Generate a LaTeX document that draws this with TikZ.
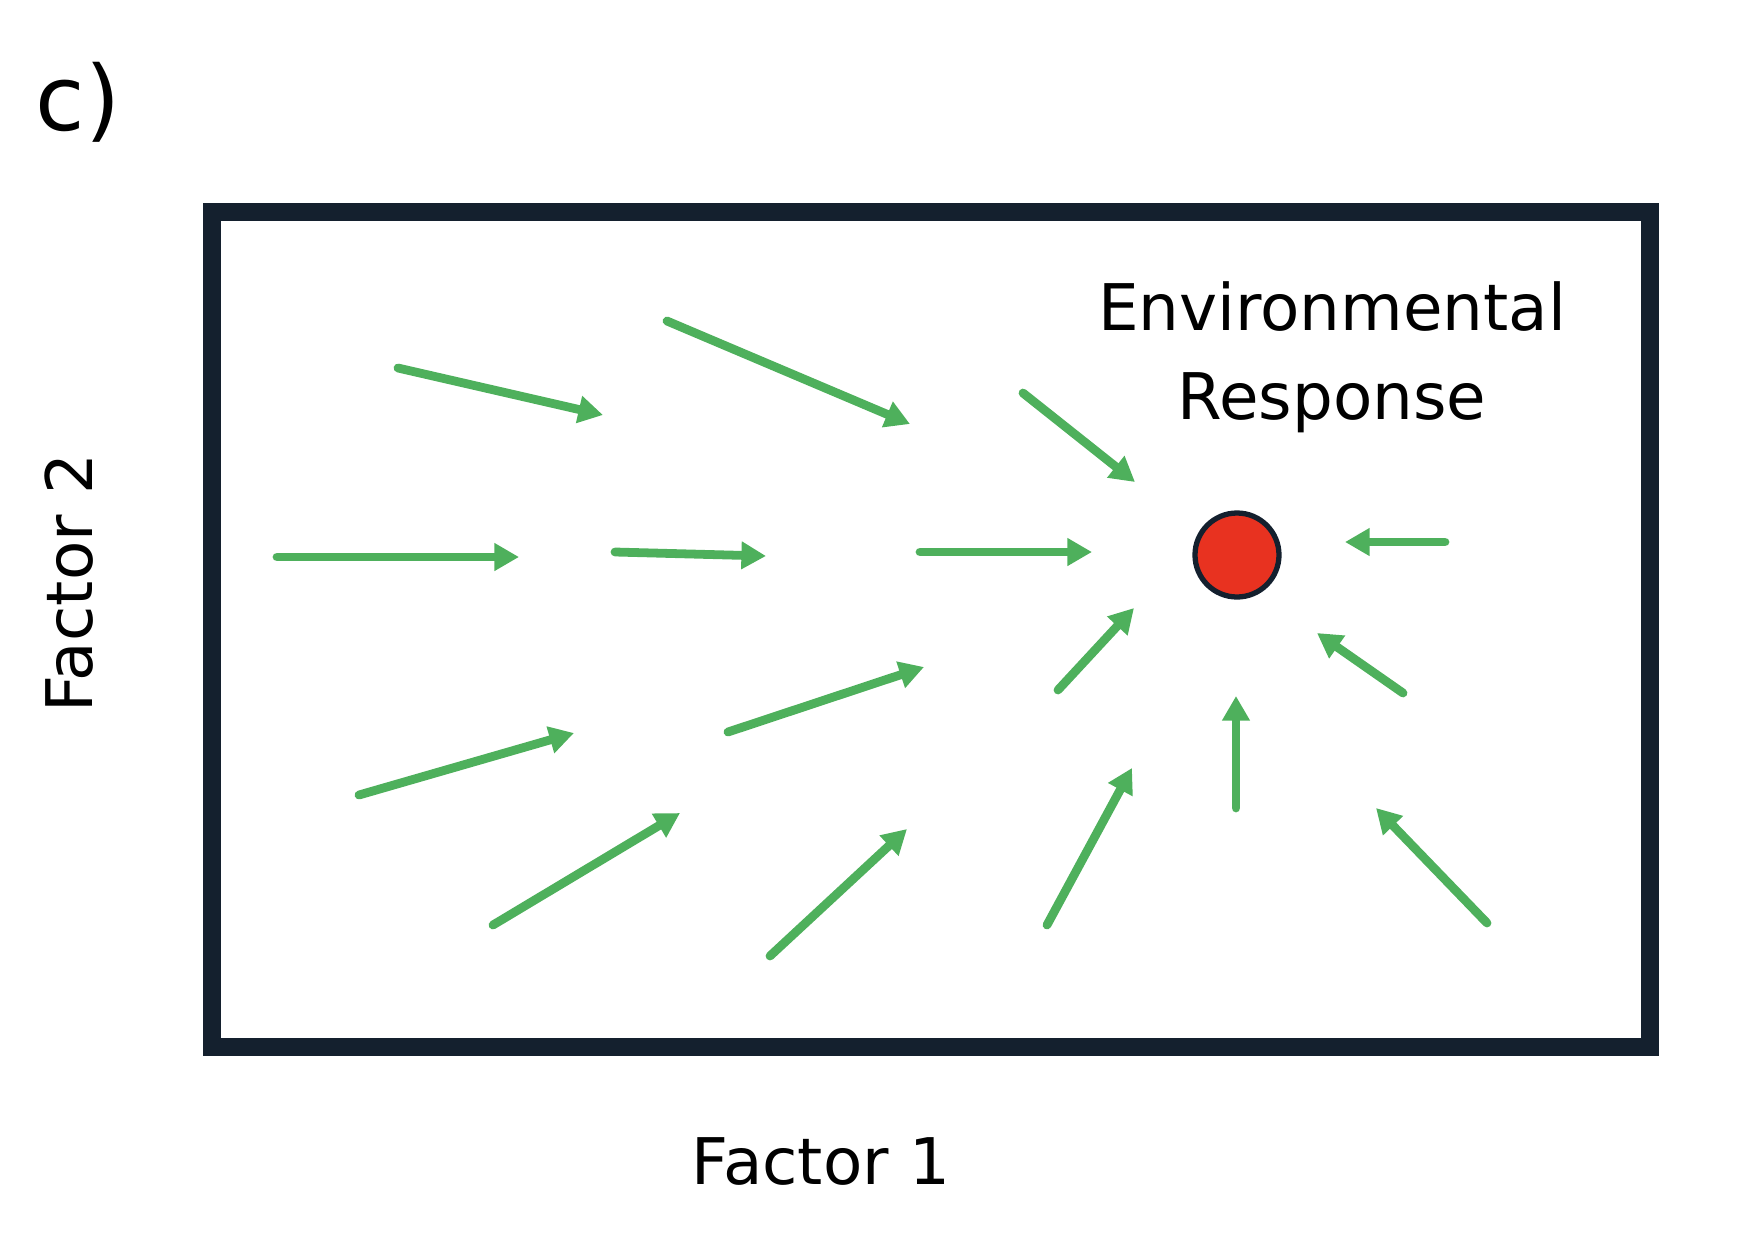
\documentclass[tikz,border=0pt]{standalone}
\usepackage{fontspec}
\setmainfont{DejaVu Sans}
\usetikzlibrary{arrows.meta}
\definecolor{framecol}{RGB}{20,32,46}
\definecolor{arrowgreen}{RGB}{78,176,92}
\definecolor{dotred}{RGB}{232,50,32}
\begin{document}
\begin{tikzpicture}[x=0.1mm,y=-0.1mm,
  vecarrow/.style={draw=arrowgreen,line width=2.5pt,line cap=round,-{Triangle[length=7pt,width=7.5pt]}},
  lbl/.style={font=\fontsize{18.3}{25.3}\selectfont,text=black,inner sep=0pt}]
\useasboundingbox (0,0) rectangle (1750,1248);
\node[font=\fontsize{25.6}{30}\selectfont,inner sep=0pt,anchor=base west] (tag) at (35,130) {c)};
\draw[framecol,line width=5pt] (212,212) rectangle (1650,1047);
\node[circle,fill=dotred,draw=framecol,line width=1.5pt,inner sep=0pt,minimum size=8.4mm] (resp) at (1237,555) {};
\node[lbl,align=center] (envtxt) at (1332,357) {Environmental\\Response};
\node[lbl] (f1) at (821,1161) {Factor 1};
\node[lbl,rotate=90] (f2) at (69,583) {Factor 2};
\foreach \i/\sx/\sy/\ex/\ey in {
  1/398/368/603/415,
  2/667/321/910/424,
  3/1023/393/1135/482,
  4/277/557/519/557,
  5/615/552/766/556,
  6/920/552/1092/552,
  7/1445/542/1345/542,
  8/359/795/574/733,
  9/728/732/924/667,
  10/1058/690/1134/608,
  11/1403/693/1317/633,
  12/493/925/680/813,
  13/770/956/907/829,
  14/1047/925/1132/768,
  15/1236/808/1236/696,
  16/1487/923/1376/808}{
  \coordinate (s\i) at (\sx,\sy);
  \coordinate (e\i) at (\ex,\ey);
  \draw[vecarrow] (s\i) -- (e\i);
}
\end{tikzpicture}
\end{document}
